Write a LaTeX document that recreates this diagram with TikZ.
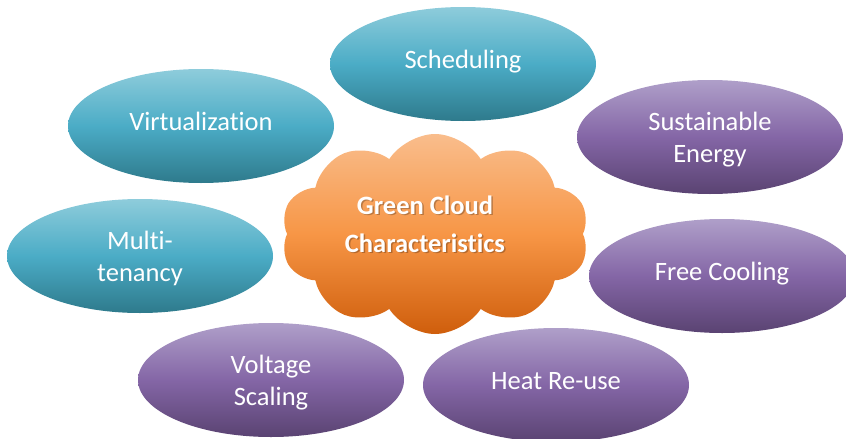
\documentclass[tikz,border=0pt]{standalone}
\usepackage{fontspec}
\setmainfont[Ligatures={NoCommon,NoContextual}]{Carlito}
\usetikzlibrary{shapes.geometric,shapes.symbols}

\definecolor{tealtop}{HTML}{8ECCDB}
\definecolor{tealmid}{HTML}{4BACC6}
\definecolor{tealbot}{HTML}{2E7A8C}
\definecolor{plumtop}{HTML}{AF9FC9}
\definecolor{plummid}{HTML}{8466A6}
\definecolor{plumbot}{HTML}{5A4372}
\definecolor{orangetop}{HTML}{F9BD8C}
\definecolor{orangemid}{HTML}{F79646}
\definecolor{orangebot}{HTML}{CF5E0C}

\tikzset{
  item/.style={ellipse, minimum width=266pt, minimum height=114pt, inner sep=0pt,
    align=center, text=white, font=\fontsize{26.5}{32}\selectfont,
    text height=19pt, text depth=10pt},
  twolines/.style={text height=58pt, text depth=7pt}, % two line labels sit a bit lower
  tealitem/.style={item, top color=tealtop, bottom color=tealbot, middle color=tealmid},
  plumitem/.style={item, top color=plumtop, bottom color=plumbot, middle color=plummid},
  coretitle/.style={align=center, font=\bfseries\fontsize{26.5}{38}\selectfont},
}

\begin{document}
\begin{tikzpicture}[x=1pt,y=-1pt]
    \useasboundingbox (0,0) rectangle (846,439);

    % The cloud in the middle
    \node[cloud, cloud puffs=10, cloud puff arc=115, aspect=1.5,
          minimum width=308pt, minimum height=200pt,
          top color=orangetop, bottom color=orangebot, middle color=orangemid] (core) at (435,234) {};
    \node[coretitle, text=black, opacity=0.25] (coreshadow) at (426.5,225.5) {Green Cloud\\Characteristics}; % soft shadow
    \node[coretitle, text=white] (coretext) at (425,224) {Green Cloud\\Characteristics};

    % Blue ones
    \node[tealitem] (sched) at (463,64) {Scheduling};
    \node[tealitem] (virt) at (201,126) {Virtualization};
    \node[tealitem, twolines] (multi) at (140,256) {Multi-\\tenancy};

    % Purple ones
    \node[plumitem, twolines] (sustain) at (710,137) {Sustainable\\Energy};
    \node[plumitem] (cooling) at (722,276) {Free Cooling};
    \node[plumitem, twolines] (voltage) at (271,380) {Voltage\\Scaling};
    \node[plumitem] (heat) at (556,385) {Heat Re-use};
\end{tikzpicture}
\end{document}
